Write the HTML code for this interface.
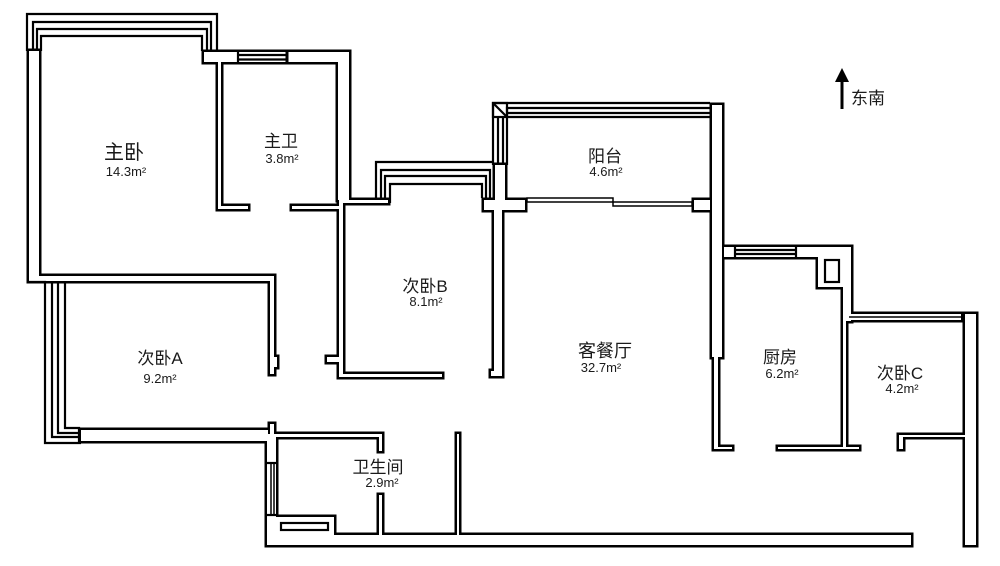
<!DOCTYPE html>
<html><head><meta charset="utf-8"><style>
html,body{margin:0;padding:0;background:#fff;}
svg{display:block;}
text{font-family:"Liberation Sans","Noto Sans CJK SC",sans-serif;fill:#1a1a1a;text-anchor:middle;}
.n{font-size:17px;}
.a{font-size:13px;}
</style></head><body>
<svg width="1000" height="566" viewBox="0 0 1000 566" xmlns="http://www.w3.org/2000/svg">
<defs>
<g id="walls">
<rect x="29" y="51" width="10" height="229"/>
<rect x="29" y="276" width="244" height="5"/>
<rect x="270" y="276" width="4" height="98"/>
<rect x="274" y="357" width="3" height="10"/>
<rect x="81" y="430" width="187" height="11"/>
<rect x="270" y="424" width="4" height="14"/>
<rect x="267" y="434" width="9" height="111"/>
<rect x="267" y="434" width="115" height="3"/>
<rect x="379" y="434" width="3" height="17"/>
<rect x="379" y="495" width="3" height="40"/>
<rect x="267" y="535" width="644" height="10"/>
<rect x="457" y="434" width="2" height="101"/>
<rect x="276" y="517" width="58" height="18"/>
<rect x="204" y="52" width="145" height="10"/>
<rect x="218" y="52" width="3" height="157"/>
<rect x="218" y="206" width="30" height="3"/>
<rect x="292" y="206" width="50" height="3"/>
<rect x="338" y="52" width="11" height="148"/>
<rect x="339" y="196" width="4" height="181"/>
<rect x="327" y="357" width="12" height="5"/>
<rect x="339" y="374" width="103" height="3"/>
<rect x="343" y="200" width="45" height="3"/>
<rect x="484" y="200" width="41" height="10"/>
<rect x="494" y="200" width="8" height="176"/>
<rect x="491" y="371" width="5" height="5"/>
<rect x="495" y="165" width="10" height="35"/>
<rect x="712" y="105" width="10" height="252"/>
<rect x="694" y="200" width="16" height="10"/>
<rect x="714" y="357" width="4" height="92"/>
<rect x="714" y="447" width="18" height="2"/>
<rect x="724" y="247" width="127" height="10"/>
<rect x="818" y="247" width="33" height="40"/>
<rect x="843" y="287" width="8" height="34"/>
<rect x="843" y="287" width="3" height="162"/>
<rect x="778" y="447" width="81" height="2"/>
<rect x="849" y="314" width="112" height="6"/>
<rect x="965" y="314" width="11" height="231"/>
<rect x="899" y="435" width="66" height="2"/>
<rect x="899" y="435" width="4" height="14"/>
</g>
</defs>
<use href="#walls" fill="#000" stroke="#000" stroke-width="5"/>
<use href="#walls" fill="#fff" stroke="none"/>
<g fill="none" stroke="#000" stroke-width="2.2">
<polyline points="27,51 27,14 217,14 217,51"/>
<polyline points="33,51 33,22 211,22 211,51"/>
<polyline points="37,51 37,29 207,29 207,51"/>
<polyline points="41,51 41,36 202,36 202,51"/>
<polyline points="27,282 45,282 45,443 81,443"/>
<polyline points="52,282 52,437 79,437"/>
<polyline points="58,282 58,433 79,433"/>
<polyline points="65,282 65,428 79,428 79,443"/>
<polyline points="376,198 376,162 493,162"/>
<polyline points="381,198 381,170 490,170 490,198"/>
<polyline points="385,198 385,176 486,176 486,198"/>
<polyline points="390,203 390,184 482,184 482,198"/>
<polyline points="493,165 493,103 710,103"/>
<polyline points="498,165 498,117"/>
<polyline points="503,165 503,117"/>
<polyline points="507,165 507,108 710,108"/>
<line x1="507" y1="113" x2="710" y2="113"/>
<line x1="507" y1="117" x2="710" y2="117"/>
<rect x="493" y="103" width="14" height="14"/>
<line x1="493" y1="103" x2="507" y2="117"/>
<rect x="527" y="198" width="86" height="4" stroke-width="1.5"/>
<rect x="613" y="202" width="79" height="4" stroke-width="1.5"/>
<line x1="238" y1="50" x2="238" y2="64"/>
<line x1="238" y1="55" x2="287" y2="55"/>
<line x1="238" y1="59.5" x2="287" y2="59.5"/>
<line x1="287" y1="50" x2="287" y2="64" stroke-width="3"/>
<line x1="735" y1="245" x2="735" y2="259"/>
<line x1="796" y1="245" x2="796" y2="259"/>
<line x1="735" y1="250" x2="796" y2="250"/>
<line x1="735" y1="254" x2="796" y2="254"/>
<rect x="825" y="260" width="14" height="22" fill="#fff"/>
<line x1="849" y1="317" x2="963" y2="317" stroke-width="1.5"/>
<line x1="271" y1="463" x2="271" y2="515" stroke-width="1.5"/>
<line x1="274" y1="463" x2="274" y2="515" stroke-width="1.5"/>
<line x1="265" y1="463" x2="278" y2="463"/>
<line x1="265" y1="515" x2="278" y2="515"/>
<rect x="281" y="523" width="47" height="7"/>
</g>
<line x1="842" y1="78" x2="842" y2="109" stroke="#000" stroke-width="3"/>
<polygon points="835,82 842,68 849,82" fill="#000"/>
<text x="868" y="104" style="font-size:17px">东南</text>
<text class="n" x="124" y="159" style="font-size:20px">主卧</text>
<text class="a" x="126" y="176">14.3m²</text>
<text class="n" x="281" y="147">主卫</text>
<text class="a" x="282" y="163">3.8m²</text>
<text class="n" x="425" y="292">次卧B</text>
<text class="a" x="426" y="306">8.1m²</text>
<text class="n" x="605" y="162">阳台</text>
<text class="a" x="606" y="176">4.6m²</text>
<text class="n" x="605" y="357" style="font-size:18px">客餐厅</text>
<text class="a" x="601" y="372">32.7m²</text>
<text class="n" x="780" y="363">厨房</text>
<text class="a" x="782" y="378">6.2m²</text>
<text class="n" x="900" y="379">次卧C</text>
<text class="a" x="902" y="393">4.2m²</text>
<text class="n" x="160" y="364">次卧A</text>
<text class="a" x="160" y="383">9.2m²</text>
<text class="n" x="378" y="473">卫生间</text>
<text class="a" x="382" y="487">2.9m²</text>
</svg>
</body></html>
